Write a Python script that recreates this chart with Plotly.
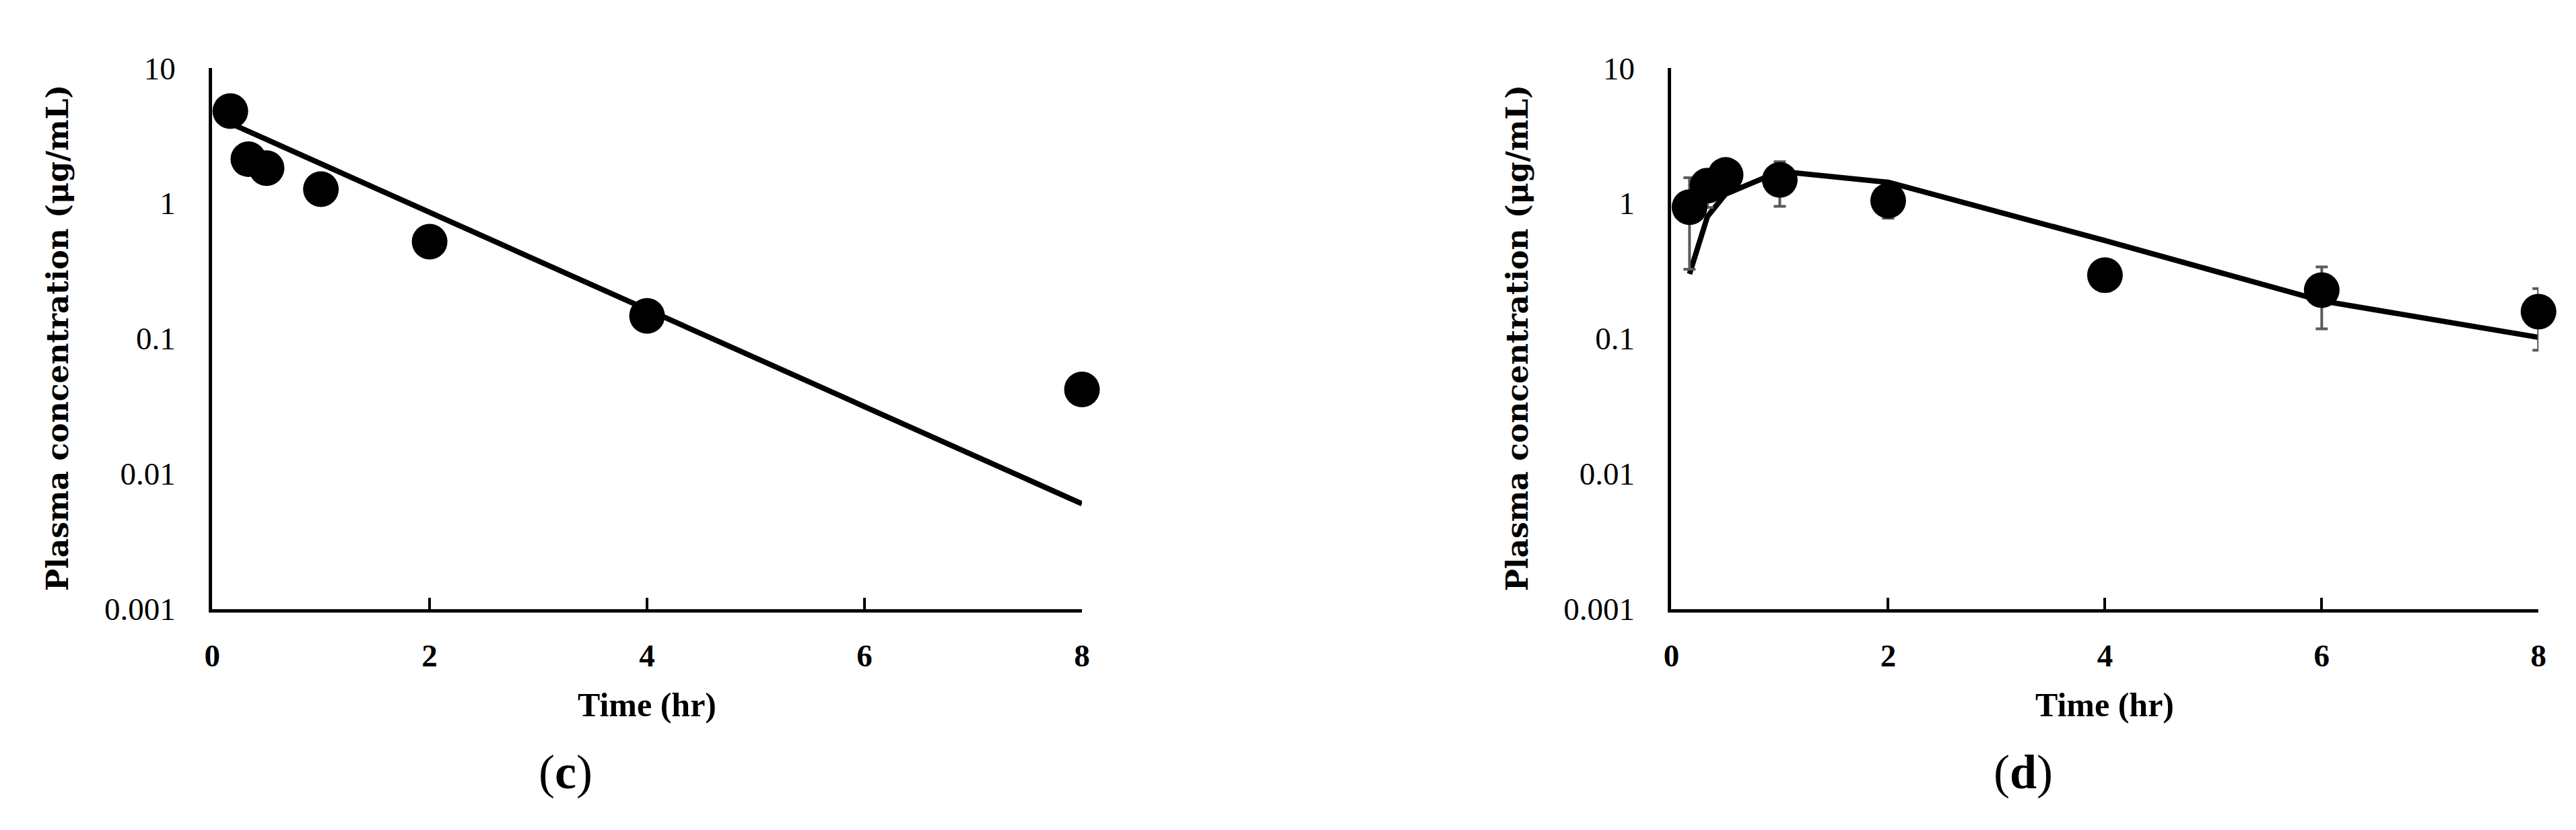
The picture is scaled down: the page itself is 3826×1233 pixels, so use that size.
import plotly.graph_objs as go

# panel (c): observed vs predicted, no error bars
time_c = [0.167, 0.333, 0.5, 1, 2, 4, 8]
obs_c = [4.8, 2.12, 1.82, 1.27, 0.52, 0.147, 0.042]
pred_c = [3.9, 3.4, 2.97, 1.96, 0.86, 0.165, 0.006]

# panel (d): observed (mean +/- sd) vs predicted
time_d = [0.167, 0.333, 0.5, 1, 2, 4, 6, 8]
obs_d = [0.935, 1.35, 1.62, 1.49, 1.045, 0.294, 0.228, 0.158]
sd_d = [0.61, 0.42, 0.15, 0.54, 0.27, 0.07, 0.11, 0.076]
pred_d = [0.30, 0.80, 1.17, 1.72, 1.43, 0.53, 0.19, 0.102]

x_ticks = [0, 2, 4, 6, 8]
y_ticks = [0.001, 0.01, 0.1, 1, 10]
y_ticktext = ['0.001', '0.01', '0.1', '1', '10']

W, H = 3826, 1233
dom_c = [297 / W, 1597 / W]
dom_d = [2478 / W, 3774 / W]
dom_y = [1 - 909 / H, 1 - 70 / H]

serif = 'Liberation Serif'
title_font = 'DejaVu Serif'

fig = go.Figure()

# predicted lines first so the markers sit on top
fig.add_trace(go.Scatter(x=time_c, y=pred_c, mode='lines',
                         line=dict(color='black', width=8),
                         xaxis='x', yaxis='y', cliponaxis=False))
fig.add_trace(go.Scatter(x=time_c, y=obs_c, mode='markers',
                         marker=dict(color='black', size=53),
                         xaxis='x', yaxis='y', cliponaxis=False))

fig.add_trace(go.Scatter(x=time_d, y=pred_d, mode='lines',
                         line=dict(color='black', width=8),
                         xaxis='x2', yaxis='y2', cliponaxis=False))
fig.add_trace(go.Scatter(x=time_d, y=obs_d, mode='markers',
                         marker=dict(color='black', size=53),
                         error_y=dict(type='data', array=sd_d, visible=True,
                                      color='#5a5a5a', thickness=4, width=9),
                         xaxis='x2', yaxis='y2', cliponaxis=False))

xax = dict(range=[0, 8], tickvals=x_ticks, ticktext=[str(v) for v in x_ticks],
           showline=True, linecolor='black', linewidth=5,
           ticks='inside', ticklen=17, tickwidth=4, tickcolor='black',
           showgrid=False, zeroline=False, ticklabelstandoff=24,
           tickfont=dict(family=serif, size=47, color='black', weight='bold'))
yax = dict(type='log', range=[-3, 1], tickvals=y_ticks, ticktext=y_ticktext,
           showline=True, linecolor='black', linewidth=5, ticks='',
           showgrid=False, zeroline=False, ticklabelstandoff=40,
           tickfont=dict(family=serif, size=47, color='black'))

fig.update_layout(
    width=W, height=H,
    margin=dict(l=0, r=0, t=0, b=0),
    paper_bgcolor='white', plot_bgcolor='white',
    showlegend=False,
    xaxis=dict(xax, domain=dom_c, anchor='y'),
    yaxis=dict(yax, domain=dom_y, anchor='x'),
    xaxis2=dict(xax, domain=dom_d, anchor='y2'),
    yaxis2=dict(yax, domain=dom_y, anchor='x2'),
)

ylab = 'Plasma concentration (μg/mL)'
for x0, x_mid, x_lab, tag in [(66, 947, 825, 'c'), (2247, 3126, 3004, 'd')]:
    fig.add_annotation(text='<b>' + ylab + '</b>', textangle=-90,
                       x=x0 / W, y=1 - 489 / H, xref='paper', yref='paper',
                       showarrow=False, xanchor='center', yanchor='middle',
                       font=dict(family=title_font, size=44, color='black'))
    fig.add_annotation(text='<b>Time (hr)</b>',
                       x=x_mid / W, y=1 - 1058 / H, xref='paper', yref='paper',
                       showarrow=False, xanchor='center', yanchor='middle',
                       font=dict(family=serif, size=50, color='black'))
    fig.add_annotation(text='(<b>' + tag + '</b>)',
                       x=x_lab / W, y=1 - 1162 / H, xref='paper', yref='paper',
                       showarrow=False, xanchor='center', yanchor='middle',
                       font=dict(family=serif, size=72, color='black'))

fig.write_html('out.html')
